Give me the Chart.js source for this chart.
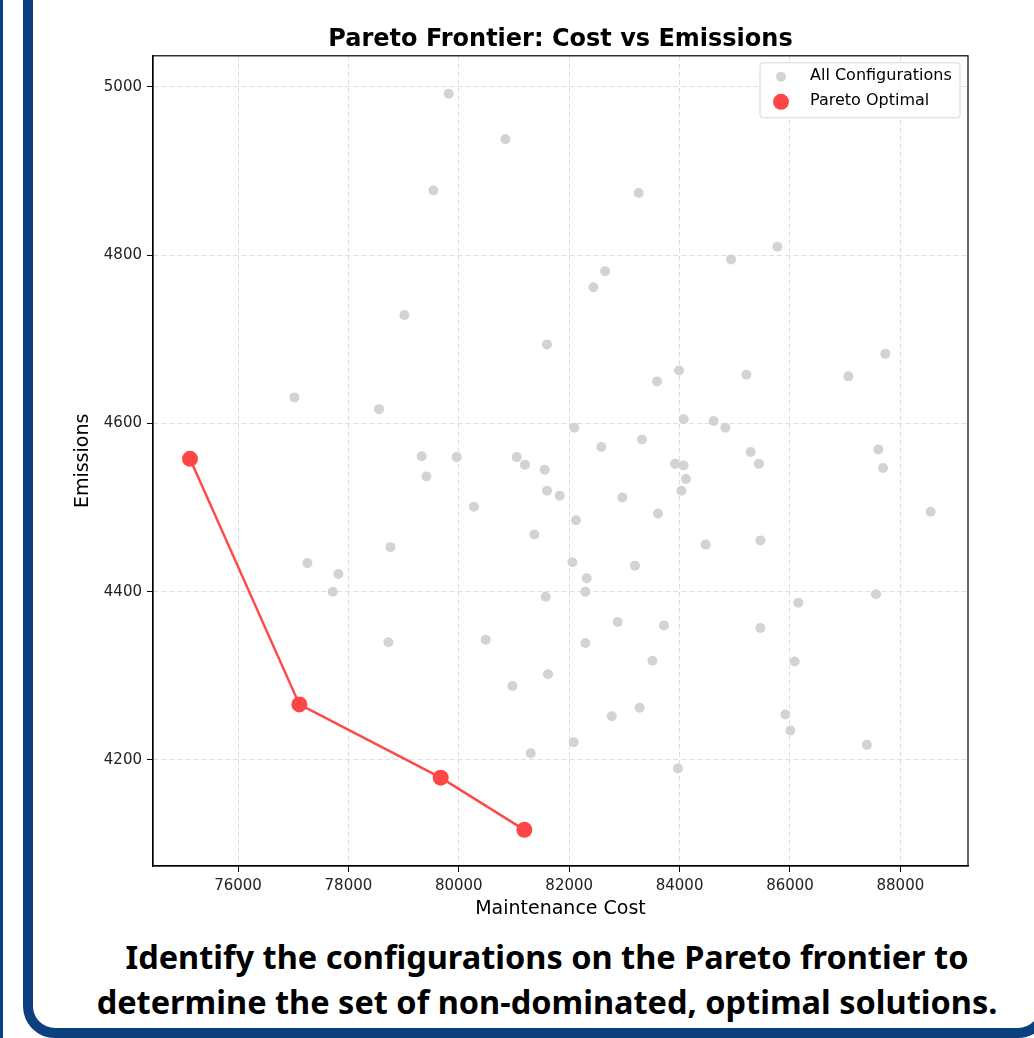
<!DOCTYPE html>
<html>
<head>
<meta charset="utf-8">
<script src="https://cdn.jsdelivr.net/npm/chart.js@4.4.0/dist/chart.umd.min.js"></script>
<style>
  html, body { margin: 0; padding: 0; background: #fff; overflow: hidden; }
  body { width: 1034px; height: 1038px; position: relative; }
  #strip { position: absolute; left: 0; top: 0; width: 3px; height: 1038px; background: #0b3f80; }
  #frame { position: absolute; left: 0; top: 0; }
  #wrap { position: absolute; left: 0; top: 0; width: 1034px; height: 930px; }
  #caption {
    position: absolute; left: 60px; top: 934px; width: 974px; text-align: center;
    font-family: "Noto Sans", "Open Sans", sans-serif; font-weight: 700;
    font-size: 32.5px; line-height: 45px; color: #000; white-space: nowrap;
  }
</style>
</head>
<body>
<div id="strip"></div>
<svg id="frame" width="1034" height="1038" viewBox="0 0 1034 1038">
  <path d="M 28 -10 L 28 1006 A 27 27 0 0 0 55 1033 L 1018 1033 A 27 27 0 0 0 1045 1006 L 1045 -10"
        fill="none" stroke="#0b3f80" stroke-width="10"/>
</svg>
<div id="wrap"><canvas id="chart"></canvas></div>
<div id="caption">Identify the configurations on the Pareto frontier to<br>determine the set of non-dominated, optimal solutions.</div>
<script>
// datos
const allCost = [79817, 80844, 79540, 79014, 81598, 77022, 78554, 83259, 85772, 84931,
  82649, 82438, 87728, 83989, 83591, 85210, 87058, 82094, 84074, 84618,
  84830, 82583, 83319, 87601, 85288, 79328, 79962, 81049, 81199, 81556,
  79413, 81598, 80275, 81370, 78761, 77257, 77819, 77716, 81574, 78725,
  80487, 81616, 80971, 81303, 83917, 84074, 85438, 87685, 84116, 81828,
  84033, 82964, 83609, 88549, 82123, 84473, 85464, 82058, 83192, 82317,
  82293, 87558, 86152, 82879, 83717, 85464, 82293, 83507, 86085, 82770,
  83277, 85917, 86007, 87391, 82082, 83971, 75130, 77112, 79672, 81188];
const allEmissions = [4992, 4938, 4877, 4729, 4694, 4631, 4617, 4874, 4810, 4795,
  4781, 4762, 4683, 4663, 4650, 4658, 4656, 4595, 4605, 4603,
  4595, 4572, 4581, 4569, 4566, 4561, 4560, 4560, 4551, 4545,
  4537, 4520, 4501, 4468, 4453, 4434, 4421, 4400, 4394, 4340,
  4343, 4302, 4288, 4208, 4552, 4550, 4552, 4547, 4534, 4514,
  4520, 4512, 4493, 4495, 4485, 4456, 4461, 4435, 4431, 4416,
  4400, 4397, 4387, 4364, 4360, 4357, 4339, 4318, 4317, 4252,
  4262, 4254, 4235, 4218, 4221, 4190, 4558, 4266, 4179, 4117];
const paretoCost = [75130, 77112, 79672, 81188];
const paretoEmissions = [4558, 4266, 4179, 4117];
const xTicks = [76000, 78000, 80000, 82000, 84000, 86000, 88000];
const yTicks = [4200, 4400, 4600, 4800, 5000];

const FONT = "'DejaVu Sans', sans-serif";

const frameBox = {
  id: 'frameBox',
  afterDraw(chart) {
    const { ctx, chartArea: a } = chart;
    ctx.save();
    ctx.strokeStyle = '#000';
    ctx.lineWidth = 1.2;
    ctx.strokeRect(a.left, a.top, a.right - a.left, a.bottom - a.top);
    ctx.restore();
  }
};

const legendBox = {
  id: 'legendBox',
  afterDraw(chart) {
    const { ctx, chartArea: a } = chart;
    const w = 200, h = 55;
    const x = a.right - 8 - w, y = a.top + 7;
    ctx.save();
    ctx.fillStyle = 'rgba(255,255,255,0.85)';
    ctx.strokeStyle = '#d6d6d6';
    ctx.lineWidth = 1;
    ctx.beginPath();
    ctx.roundRect(x, y, w, h, 3);
    ctx.fill();
    ctx.stroke();
    ctx.font = "16px " + FONT;
    ctx.textBaseline = 'middle';
    chart.data.datasets.forEach((ds, i) => {
      const cy = y + 14 + i * 25;
      ctx.fillStyle = ds.pointBackgroundColor;
      ctx.beginPath();
      ctx.arc(x + 21, cy, ds.pointRadius, 0, Math.PI * 2);
      ctx.fill();
      ctx.fillStyle = '#000';
      ctx.fillText(ds.label, x + 50, cy - 1);
    });
    ctx.restore();
  }
};

new Chart(document.getElementById('chart'), {
  type: 'scatter',
  data: {
    datasets: [
      {
        label: 'All Configurations',
        data: allCost.map((c, i) => ({ x: c, y: allEmissions[i] })),
        pointRadius: 5,
        pointBackgroundColor: '#d3d3d3',
        pointBorderWidth: 0,
        order: 2
      },
      {
        label: 'Pareto Optimal',
        data: paretoCost.map((c, i) => ({ x: c, y: paretoEmissions[i] })),
        showLine: true,
        borderColor: '#ff4a4a',
        borderWidth: 2.5,
        pointRadius: 8,
        pointBackgroundColor: '#ff4646',
        pointBorderWidth: 0,
        order: 1
      }
    ]
  },
  options: {
    responsive: true,
    maintainAspectRatio: false,
    animation: false,
    layout: { padding: { left: 68, right: 66, top: 0, bottom: 0 } },
    plugins: {
      legend: { display: false },
      tooltip: { enabled: false },
      title: {
        display: true,
        fullSize: false,
        text: 'Pareto Frontier: Cost vs Emissions',
        color: '#000',
        font: { family: FONT, size: 24, weight: 'bold' },
        padding: { top: 25, bottom: 2 }
      }
    },
    scales: {
      x: {
        type: 'linear',
        min: 74460,
        max: 89225,
        afterBuildTicks: s => { s.ticks = xTicks.map(v => ({ value: v })); },
        afterFit: s => { s.height = 64; },
        ticks: { color: '#222', padding: 5, font: { family: FONT, size: 15 }, callback: v => String(v) },
        grid: { color: '#dedede', lineWidth: 1, tickColor: '#000', tickLength: 6, tickWidth: 1, tickBorderDash: [] },
        border: { color: '#000', width: 1.2, dash: [5, 3] },
        title: { display: true, text: 'Maintenance Cost', color: '#000', font: { family: FONT, size: 19 }, padding: { top: 10, bottom: 10 } }
      },
      y: {
        type: 'linear',
        min: 4074,
        max: 5037,
        afterBuildTicks: s => { s.ticks = yTicks.map(v => ({ value: v })); },
        afterFit: s => { s.width = 85; },
        ticks: { color: '#222', padding: 5, font: { family: FONT, size: 15 }, callback: v => String(v) },
        grid: { color: '#dedede', lineWidth: 1, tickColor: '#000', tickLength: 6, tickWidth: 1, tickBorderDash: [] },
        border: { color: '#000', width: 1.2, dash: [5, 3] },
        title: { display: true, text: 'Emissions', color: '#000', font: { family: FONT, size: 19 }, padding: { top: 4, bottom: 4 } }
      }
    }
  },
  plugins: [frameBox, legendBox]
});
</script>
</body>
</html>
